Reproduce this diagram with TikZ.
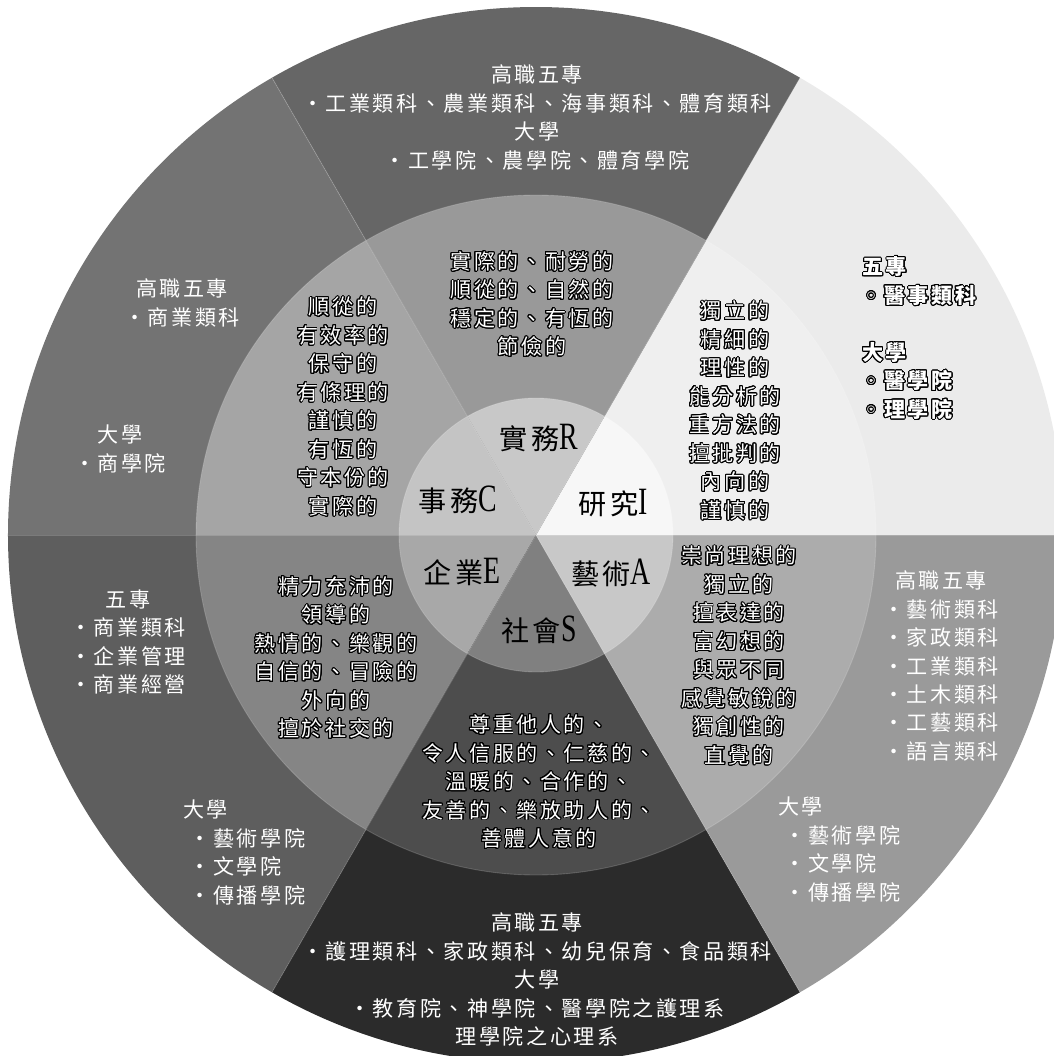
\documentclass[tikz,border=0pt]{standalone}
\usepackage{fontspec}
\usepackage[copies]{contour}
\setmainfont{Noto Sans CJK TC}[LetterSpace=12]
\newfontfamily\latinfont{Liberation Serif}
\newfontfamily\symfont{DejaVu Sans}
\contourlength{0.55pt}
\contournumber{24}
\newcommand{\outl}[1]{\contour{black}{#1}}
\newcommand{\letr}[1]{\scalebox{0.72}[1]{\latinfont\fontsize{22}{22}\selectfont #1}}
\newcommand{\wb}{{\symfont ◦}\hspace{0.3em}}
\definecolor{outI}{HTML}{EBEBEB}
\definecolor{outR}{HTML}{666666}
\definecolor{outC}{HTML}{737373}
\definecolor{outE}{HTML}{5E5E5E}
\definecolor{outS}{HTML}{2B2B2B}
\definecolor{outA}{HTML}{9A9A9A}
\definecolor{midI}{HTML}{EFEFEF}
\definecolor{midR}{HTML}{999999}
\definecolor{midC}{HTML}{A5A5A5}
\definecolor{midE}{HTML}{858585}
\definecolor{midS}{HTML}{4D4D4D}
\definecolor{midA}{HTML}{ACACAC}
\definecolor{inI}{HTML}{F7F7F7}
\definecolor{inR}{HTML}{C8C8C8}
\definecolor{inC}{HTML}{C4C4C4}
\definecolor{inE}{HTML}{A8A8A8}
\definecolor{inS}{HTML}{808080}
\definecolor{inA}{HTML}{C8C8C8}
\begin{document}
\begin{tikzpicture}[
  school/.style={text=white, align=center, inner sep=0pt, font=\fontsize{12}{16.2}\selectfont},
  trait/.style={text=white, align=center, inner sep=0pt, font=\fontsize{12}{16.2}\selectfont},
  kind/.style={text=black, inner sep=0pt, font=\fontsize{16}{18}\selectfont},
  sep/.style={white, opacity=0.18, line width=0.5pt}
]
  \useasboundingbox (-10.72,-10.42) rectangle (10.36,10.70);
  \clip (-10.72,-10.42) rectangle (10.36,10.70);
  \foreach \a/\co/\cm/\ci in {0/outI/midI/inI, 60/outR/midR/inR, 120/outC/midC/inC,
                              180/outE/midE/inE, 240/outS/midS/inS, 300/outA/midA/inA} {
    \fill[\co] (0,0) -- (\a:10.56) arc[start angle=\a, delta angle=60, radius=10.56] -- cycle;
    \fill[\cm] (0,0) -- (\a:6.8) arc[start angle=\a, delta angle=60, radius=6.8] -- cycle;
    \fill[\ci] (0,0) -- (\a:2.74) arc[start angle=\a, delta angle=60, radius=2.74] -- cycle;
  }
  \foreach \a in {0,60,...,300}
    \draw[sep] (0,0) -- (\a:10.56);
  \draw[sep] (0,0) circle (6.8);
  \draw[sep] (0,0) circle (2.74);

  \node[school] (schoolR) at (0.02,8.35) {高職五專\\·工業類科、農業類科、海事類科、體育類科\\大學\\·工學院、農學院、體育學院};
  \node[school, align=left, anchor=west, font=\fontsize{12}{16.2}\selectfont\bfseries] (schoolI) at (6.52,3.93)
    {\outl{五專}\\\hspace*{0.1em}\outl{\wb 醫事類科}\\[16.2pt]\outl{大學}\\\hspace*{0.1em}\outl{\wb 醫學院}\\\hspace*{0.1em}\outl{\wb 理學院}};
  \node[school] (schoolC1) at (-7.08,4.64) {高職五專\\·商業類科};
  \node[school] (schoolC2) at (-8.32,1.72) {大學\\·商學院};
  \node[school] (schoolE1) at (-8.16,-2.14) {五專\\·商業類科\\·企業管理\\·商業經營};
  \node[school, align=left, anchor=west] (schoolE2) at (-7.06,-6.35) {大學\\\hspace*{0.3em}·藝術學院\\\hspace*{0.3em}·文學院\\\hspace*{0.3em}·傳播學院};
  \node[school] (schoolA1) at (8.1,-2.62) {高職五專\\·藝術類科\\·家政類科\\·工業類科\\·土木類科\\·工藝類科\\·語言類科};
  \node[school, align=left, anchor=west] (schoolA2) at (4.84,-6.29) {大學\\\hspace*{0.3em}·藝術學院\\\hspace*{0.3em}·文學院\\\hspace*{0.3em}·傳播學院};
  \node[school] (schoolS) at (0.02,-8.89) {高職五專\\·護理類科、家政類科、幼兒保育、食品類科\\大學\\·教育院、神學院、醫學院之護理系\\理學院之心理系};

  \node[trait] (traitR) at (-0.08,4.61) {\outl{實際的、耐勞的}\\\outl{順從的、自然的}\\\outl{穩定的、有恆的}\\\outl{節儉的}};
  \node[trait] (traitI) at (3.98,2.48) {\outl{獨立的}\\\outl{精細的}\\\outl{理性的}\\\outl{能分析的}\\\outl{重方法的}\\\outl{擅批判的}\\\outl{內向的}\\\outl{謹慎的}};
  \node[trait] (traitC) at (-3.86,2.56) {\outl{順從的}\\\outl{有效率的}\\\outl{保守的}\\\outl{有條理的}\\\outl{謹慎的}\\\outl{有恆的}\\\outl{守本份的}\\\outl{實際的}};
  \node[trait] (traitE) at (-4.0,-2.46) {\outl{精力充沛的}\\\outl{領導的}\\\outl{熱情的、樂觀的}\\\outl{自信的、冒險的}\\\outl{外向的}\\\outl{擅於社交的}};
  \node[trait] (traitA) at (4.06,-2.42) {\outl{崇尚理想的}\\\outl{獨立的}\\\outl{擅表達的}\\\outl{富幻想的}\\\outl{與眾不同}\\\outl{感覺敏銳的}\\\outl{獨創性的}\\\outl{直覺的}};
  \node[trait] (traitS) at (0.06,-4.94) {\outl{尊重他人的、}\\\outl{令人信服的、仁慈的、}\\\outl{溫暖的、合作的、}\\\outl{友善的、樂放助人的、}\\\outl{善體人意的}};

  \node[kind] (kindR) at (0.06,1.94) {實務\letr{R}};
  \node[kind] (kindI) at (1.54,0.64) {研究\letr{I}};
  \node[kind] (kindC) at (-1.56,0.70) {事務\letr{C}};
  \node[kind] (kindE) at (-1.48,-0.74) {企業\letr{E}};
  \node[kind] (kindA) at (1.50,-0.76) {藝術\letr{A}};
  \node[kind] (kindS) at (0.06,-1.90) {社會\letr{S}};
\end{tikzpicture}
\end{document}
